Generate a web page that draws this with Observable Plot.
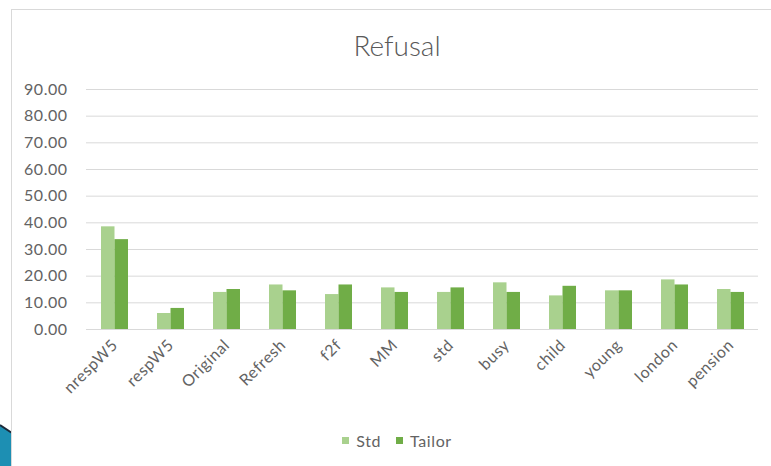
<!DOCTYPE html>
<html>
<head>
<meta charset="utf-8">
<script src="https://cdn.jsdelivr.net/npm/d3@7"></script>
<script src="https://cdn.jsdelivr.net/npm/@observablehq/plot@0.6"></script>
<style>
  html, body { margin: 0; padding: 0; background: #fff; }
  body { width: 771px; height: 466px; overflow: hidden; position: relative; font-family: Lato, "Open Sans", sans-serif; }
  #deco { position: absolute; left: 0; top: 420px; width: 40px; height: 46px; }
  #chart { position: absolute; left: 11px; top: 9px; width: 770px; height: 470px;
           border-left: 1px solid #d9d9d9; border-top: 1px solid #d9d9d9; background: #fff; }
  #title { height: 29px; padding-top: 21px; line-height: 28px; font-size: 28px; font-weight: 300;
           text-align: center; color: #595959; }
  #legend { height: 40px; display: flex; justify-content: center; align-items: center;
            font-size: 16px; letter-spacing: 0.6px; color: #636363; gap: 15px; padding-left: 0px; }
  .item { display: flex; align-items: center; gap: 7px; }
  .sw { width: 7px; height: 7px; display: inline-block; }
  #plot svg g[aria-label="x-axis tick label"] text, #plot svg g[aria-label="x-axis"] text { letter-spacing: 0.6px; }
  #plot svg g[aria-label="y-axis tick label"] text, #plot svg g[aria-label="y-axis"] text { letter-spacing: 0.5px; }
</style>
</head>
<body>
<svg id="deco" width="40" height="46" viewBox="0 0 40 46">
  <polygon points="0,5 12,13 12,46 0,46" fill="#1d8fb3"/>
  <polyline points="0,5 12,13" stroke="#1b2a3a" stroke-width="2" fill="none"/>
</svg>
<div id="chart">
  <div id="title">Refusal</div>
  <div id="plot"></div>
  <div id="legend"></div>
</div>
<script>
const categories = ["nrespW5","respW5","Original","Refresh","f2f","MM","std","busy","child","young","london","pension"];
const stdValues    = [38.5, 6.0, 13.9, 16.7, 13.1, 15.6, 13.9, 17.5, 12.6, 14.5, 18.6, 15.0];
const tailorValues = [33.7, 7.9, 15.0, 14.5, 16.7, 13.9, 15.6, 13.9, 16.2, 14.5, 16.7, 13.9];
const seriesNames  = ["Std", "Tailor"];
const seriesColors = ["#A9D18E", "#70AD47"];
const yTicks = [0, 10, 20, 30, 40, 50, 60, 70, 80, 90];

const rows = categories.map((c, i) => ({category: c, std: stdValues[i], tailor: tailorValues[i]}));

const chart = Plot.plot({
  width: 770,
  height: 360,
  marginTop: 29,
  marginBottom: 91,
  marginLeft: 74,
  marginRight: 24,
  style: {fontFamily: "Lato, 'Open Sans', sans-serif", fontSize: "16px", color: "#636363", background: "transparent", overflow: "visible"},
  x: {domain: categories, paddingInner: 0.518, paddingOuter: 0.259, tickRotate: -45, tickSize: 0, tickPadding: 13, label: null},
  y: {domain: [0, 90], ticks: 9, tickFormat: d => d.toFixed(2), tickSize: 0, tickPadding: 19, label: null},
  marks: [
    Plot.ruleY(yTicks, {stroke: "#d9d9d9", strokeWidth: 1}),
    Plot.barY(rows, {x: "category", y: "std", fill: seriesColors[0], insetRight: 13.5}),
    Plot.barY(rows, {x: "category", y: "tailor", fill: seriesColors[1], insetLeft: 13.5})
  ]
});
document.getElementById("plot").appendChild(chart);

const legend = document.getElementById("legend");
seriesNames.forEach((name, i) => {
  const item = document.createElement("div");
  item.className = "item";
  const sw = document.createElement("span");
  sw.className = "sw";
  sw.style.background = seriesColors[i];
  const label = document.createElement("span");
  label.textContent = name;
  item.appendChild(sw);
  item.appendChild(label);
  legend.appendChild(item);
});
</script>
</body>
</html>
